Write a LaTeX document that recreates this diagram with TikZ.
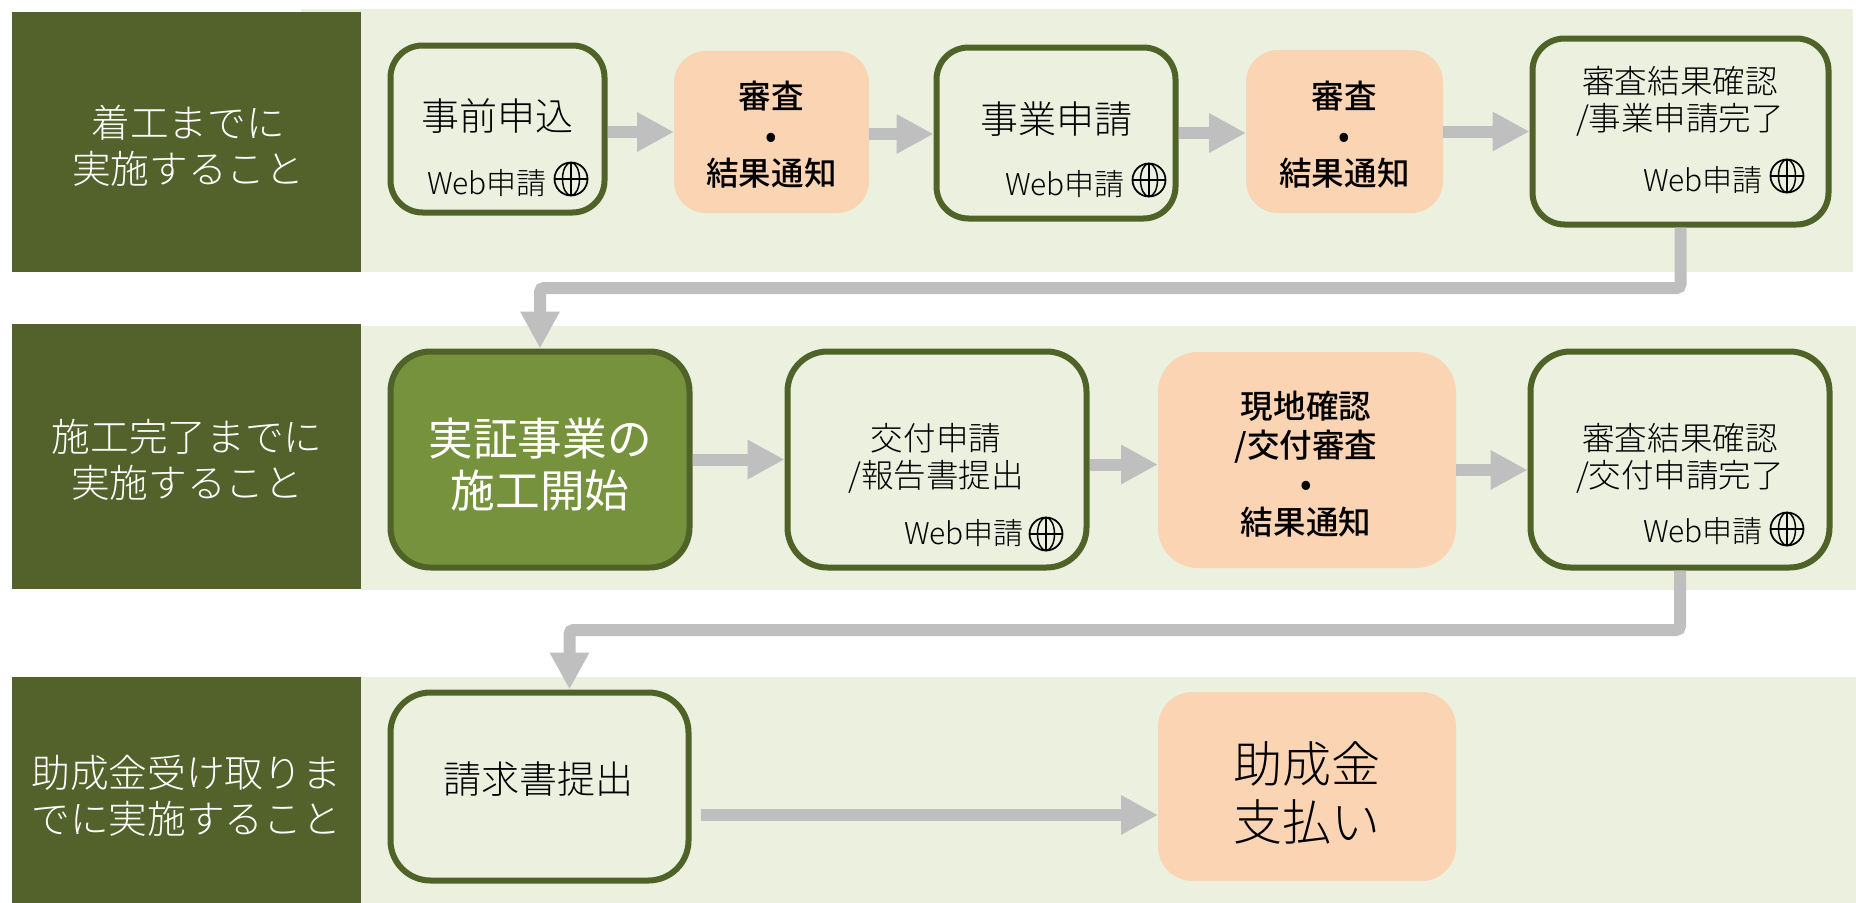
\documentclass[tikz,border=0pt]{standalone}
\usepackage{fontspec}
\usetikzlibrary{arrows.meta}
\setmainfont{Noto Sans CJK JP Light}[BoldFont={Noto Sans CJK JP Medium}]
\newfontfamily\jpregular{Noto Sans CJK JP}
\newcommand\fsz[2]{\fontsize{#1pt}{#2pt}\selectfont}
\definecolor{darkgreen}{HTML}{52622A}
\definecolor{lightband}{HTML}{EBF0DF}
\definecolor{edgegreen}{HTML}{4F6228}
\definecolor{startgreen}{HTML}{76923C}
\definecolor{peach}{HTML}{FBD4B4}
\definecolor{flowgray}{HTML}{BFBFBF}
\tikzset{
  x=0.75pt,y=-0.75pt,
  plain/.style={inner sep=0pt,outer sep=0pt,draw=none},
  band/.style={plain,fill=lightband},
  head/.style={plain,fill=darkgreen},
  headtext/.style={plain,text=white,align=center,font=\fsz{29}{34.5}},
  stepbox/.style={draw=edgegreen,line width=4.5pt,fill=lightband,inner sep=0pt,rounded corners=24pt},
  startbox/.style={stepbox,fill=startgreen},
  reviewbox/.style={plain,fill=peach,rounded corners=24pt},
  big/.style={plain,align=center,font=\fsz{28.5}{34}},
  mid/.style={plain,align=center,font=\fsz{24.4}{28}},
  webtext/.style={plain,font=\fsz{22.5}{26}},
  reviewtext/.style={plain,align=center,font=\bfseries\fsz{24.4}{28.9}},
  flow/.style={draw=flowgray,line width=9pt,-{Triangle[length=27.75pt,width=27.75pt]}},
  globeicon/.pic={
    \draw[black,line width=1.3pt] (0,0) circle[radius=16.5];
    \draw[black,line width=1.1pt] (0,0) ellipse[x radius=8.5,y radius=16.5];
    \draw[black,line width=1.1pt] (0,-16.5) -- (0,16.5);
    \draw[black,line width=1.1pt] (-16.5,0) -- (16.5,0);
  }
}
\begin{document}
\begin{tikzpicture}
\useasboundingbox (0,0) rectangle (1856,903);
% bands
\node[band,minimum width=1164pt,minimum height=197.25pt] (b1) at (1077,140.5) {};
\node[band,minimum width=1392pt-270pt,minimum height=198pt] (b2) at (1108.5,458) {};
\node[band,minimum width=1392pt-270pt,minimum height=169.5pt] (b3) at (1108.5,790) {};
\node[head,minimum width=261.75pt,minimum height=195pt] (h1) at (186.5,142) {};
\node[head,minimum width=261.75pt,minimum height=198.75pt] (h2) at (186.5,456.5) {};
\node[head,minimum width=261.75pt,minimum height=169.5pt] (h3) at (186.5,790) {};
\node[headtext] (h1t) at (188,146) {着工までに\\実施すること};
\node[headtext] (h2t) at (187,460) {施工完了までに\\実施すること};
\node[headtext] (h3t) at (186,796) {助成金受け取りま\\でに実施すること};
% row 1
\node[stepbox,minimum width=160.5pt,minimum height=125.25pt] (n1) at (497.5,129) {};
\node[reviewbox,minimum width=146.25pt,minimum height=121.5pt] (r1) at (771.5,132) {};
\node[stepbox,minimum width=179.25pt,minimum height=128.25pt] (n2) at (1056,133) {};
\node[reviewbox,minimum width=147.75pt,minimum height=122.25pt] (r2) at (1344.5,131.5) {};
\node[stepbox,minimum width=222pt,minimum height=139.5pt] (n3) at (1680.5,131.5) {};
% row 2
\node[startbox,rounded corners=30pt,minimum width=224.25pt,minimum height=162pt] (s) at (540,459.5) {};
\node[stepbox,rounded corners=30pt,minimum width=224.25pt,minimum height=162pt] (n4) at (937,459.5) {};
\node[reviewbox,rounded corners=30pt,minimum width=223.5pt,minimum height=162pt] (r3) at (1307,460) {};
\node[stepbox,rounded corners=30pt,minimum width=224.25pt,minimum height=162pt] (n5) at (1680,459.5) {};
% row 3
\node[stepbox,rounded corners=30pt,minimum width=223.5pt,minimum height=141pt] (n6) at (539.5,786.5) {};
\node[reviewbox,rounded corners=26pt,minimum width=223.5pt,minimum height=141.75pt] (r4) at (1307,786.5) {};
% texts
\node[big] (n1t) at (497,116) {事前申込};
\node[webtext] (n1w) at (487,183) {Web申請};
\pic at (571,179) {globeicon};
\node[reviewtext] (r1t) at (771.5,135) {審査\\•\\結果通知};
\node[big] (n2t) at (1056,119) {事業申請};
\node[webtext] (n2w) at (1065,184) {Web申請};
\pic at (1149,180) {globeicon};
\node[reviewtext] (r2t) at (1344.5,135) {審査\\•\\結果通知};
\node[mid] (n3t) at (1680,101) {審査結果確認\\/事業申請完了};
\node[webtext] (n3w) at (1703,180) {Web申請};
\pic at (1787,176) {globeicon};
\node[plain,text=white,align=center,font=\jpregular\fsz{33.5}{39}] (st) at (540,464.5) {実証事業の\\施工開始};
\node[mid] (n4t) at (936,458) {交付申請\\/報告書提出};
\node[webtext] (n4w) at (964,533) {Web申請};
\pic at (1046,534) {globeicon};
\node[reviewtext] (r3t) at (1306,464) {現地確認\\/交付審査\\•\\結果通知};
\node[mid] (n5t) at (1680,458) {審査結果確認\\/交付申請完了};
\node[webtext] (n5w) at (1703,531) {Web申請};
\pic at (1787,529) {globeicon};
\node[big] (n6t) at (538,779) {請求書提出};
\node[plain,align=center,font=\fsz{36.75}{44}] (r4t) at (1307,793) {助成金\\支払い};
% connectors
\coordinate (elbowa) at (1000,288);
\coordinate (elbowb) at (1000,630);
\coordinate (startc) at (701,815);
\draw[flow] ([shift={(0,3)}]n1.east) -- ([shift={(0,3)}]n1.east -| r1.west);
\draw[flow] ([shift={(0,2)}]r1.east) -- ([shift={(0,2)}]r1.east -| n2.west);
\draw[flow] (n2.east) -- (n2.east -| r2.west);
\draw[flow] (r2.east) -- (r2.east -| n3.west);
\draw[flow,rounded corners=3pt] (n3.south) |- (elbowa) -| (s.north);
\draw[flow] (s.east) -- (n4.west);
\draw[flow] ([shift={(0,5)}]n4.east) -- ([shift={(0,5)}]n4.east -| r3.west);
\draw[flow] ([shift={(0,10)}]r3.east) -- ([shift={(0,10)}]r3.east -| n5.west);
\draw[flow,rounded corners=3pt] (n5.south) |- (elbowb) -| ([shift={(30,0)}]n6.north);
\draw[flow] (startc) -- (startc -| r4.west);
\end{tikzpicture}
\end{document}
